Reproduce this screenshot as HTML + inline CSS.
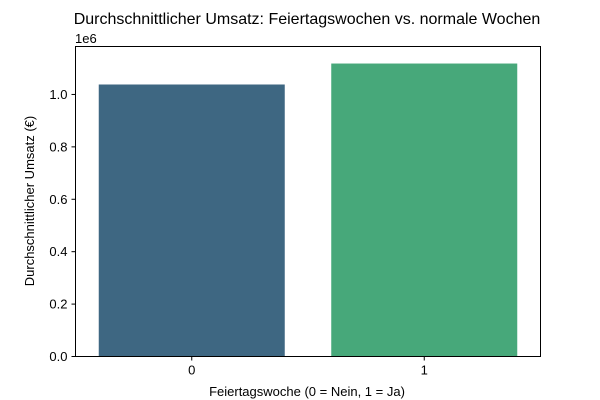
<!DOCTYPE html>
<html><head><meta charset="utf-8">
<style>
body{margin:0;background:#fff;}
svg{display:block;font-family:"Liberation Sans","DejaVu Sans",sans-serif;}
</style></head>
<body>
<svg id="chart" width="600" height="400">
<text x="307" y="24" text-anchor="middle" font-size="16">Durchschnittlicher Umsatz: Feiertagswochen vs. normale Wochen</text>
<text x="307" y="396" text-anchor="middle" font-size="13">Feiertagswoche (0 = Nein, 1 = Ja)</text>
<text transform="translate(34,201) rotate(-90)" text-anchor="middle" font-size="13">Durchschnittlicher Umsatz (€)</text>
<text x="75" y="43" font-size="13">1e6</text>
<g id="marks"></g>
<rect x="75.5" y="46.5" width="465" height="310" fill="none" stroke="#000" stroke-width="1"/>
</svg>
<script>
const categories = ["0", "1"];
const values = [1.038e6, 1.118e6];
const colors = ["#3e6782", "#47a87a"];
const yTicks = [0, 0.2e6, 0.4e6, 0.6e6, 0.8e6, 1.0e6];
const yTickLabels = ["0.0", "0.2", "0.4", "0.6", "0.8", "1.0"];
const yMax = 1.183e6;

const L = 75.5, R = 540.5, T = 46.5, B = 356.5;
const ns = "http://www.w3.org/2000/svg";
const g = document.getElementById("marks");
function y(v){ return B - (v / yMax) * (B - T); }
function x(i){ return L + (i + 0.5) / categories.length * (R - L); }
const bw = 0.8 * (R - L) / categories.length;
function mk(tag, attrs){ const e = document.createElementNS(ns, tag); for (const k in attrs) e.setAttribute(k, attrs[k]); g.appendChild(e); return e; }

categories.forEach((c, i) => {
  const r = mk("rect", {x: x(i) - bw/2, y: y(values[i]), width: bw, height: B - y(values[i]), fill: colors[i]});
  
  
  const t = mk("line", {x1: x(i), x2: x(i), y1: B, y2: B + 4, stroke: "#000"});
  
  
  const l = mk("text", {x: x(i), y: B + 18, "text-anchor": "middle", "font-size": 13});
  l.textContent = c;
  
  
});
yTicks.forEach((v, i) => {
  const t = mk("line", {x1: L - 4, x2: L, y1: y(v), y2: y(v), stroke: "#000"});
  
  
  const l = mk("text", {x: L - 8, y: y(v) + 4.5, "text-anchor": "end", "font-size": 13});
  l.textContent = yTickLabels[i];
  
  
});
</script>
</body></html>
